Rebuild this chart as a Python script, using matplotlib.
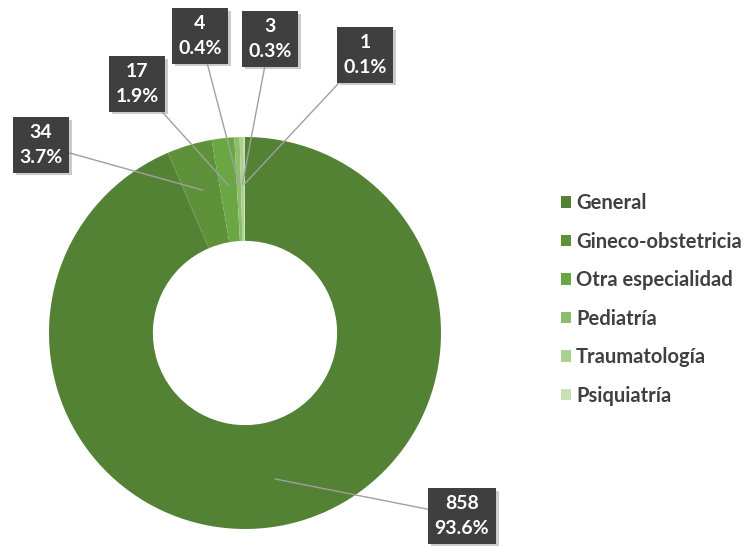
import numpy as np
import matplotlib
matplotlib.use("Agg")
import matplotlib.pyplot as plt
import matplotlib.patheffects as pe

categories = ["General", "Gineco-obstetricia", "Otra especialidad",
              "Pediatría", "Traumatología", "Psiquiatría"]
counts = [858, 34, 17, 4, 3, 1]
colors = ["#548235", "#5e9139", "#6aa744", "#8cbd6d", "#abd08f", "#c8e1b6"]

# where each label box sits (figure pixels, origin top-left)
label_pos = [(462, 516), (41, 145), (137, 84), (200, 36), (270, 39), (365, 55)]

plt.rcParams["font.family"] = ["Lato", "DejaVu Sans"]

W, H = 746, 546
fig = plt.figure(figsize=(W / 100, H / 100), dpi=100)
fig.patch.set_facecolor("white")

ax = fig.add_axes([49 / W, 17 / H, 392 / W, 392 / H])
wedges, _ = ax.pie(counts, colors=colors, startangle=90, counterclock=False,
                   radius=1.0, wedgeprops=dict(width=0.53, edgecolor="none"))
ax.set_xlim(-1, 1)
ax.set_ylim(-1, 1)
ax.set_aspect("equal")
ax.axis("off")

total = sum(counts)
for w, n, (px, py) in zip(wedges, counts, label_pos):
    ang = np.deg2rad((w.theta1 + w.theta2) / 2)
    r = 0.76
    txt = f"{n}\n{n / total * 100:.1f}%"
    t = ax.annotate(txt, xy=(r * np.cos(ang), r * np.sin(ang)),
                    xytext=(px, H - py), textcoords="figure pixels",
                    ha="center", va="center", multialignment="center",
                    color="white", fontsize=14, fontweight="bold", linespacing=1.6,
                    bbox=dict(boxstyle="square,pad=0.33", fc="#3f3f3f", ec="none"),
                    arrowprops=dict(arrowstyle="-", color="#a0a0a0", lw=1,
                                    shrinkA=0, shrinkB=0))
    t.get_bbox_patch().set_path_effects(
        [pe.withSimplePatchShadow(offset=(2, -2), shadow_rgbFace="#999999", alpha=0.5)])

leg = fig.legend(wedges, categories, loc="upper left",
                 bbox_to_anchor=(561 / W, 1 - 193 / H), frameon=False,
                 borderpad=0, borderaxespad=0,
                 handlelength=0.5, handleheight=0.5, handletextpad=0.25,
                 labelspacing=0.92, prop=dict(size=14.5, weight="bold"))
for t in leg.get_texts():
    t.set_color("#404040")

fig.savefig("out.png", dpi=100)
